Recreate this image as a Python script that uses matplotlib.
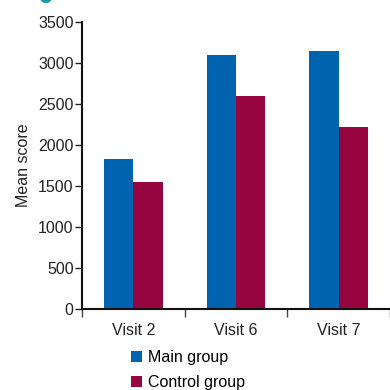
import matplotlib.pyplot as plt
import numpy as np
from matplotlib.patches import Circle

plt.rcParams['font.family'] = ['Liberation Sans', 'DejaVu Sans']

visits = ['Visit 2', 'Visit 6', 'Visit 7']
main_group = [1830, 3100, 3150]
control_group = [1550, 2600, 2220]

blue = '#0063b0'
red = '#970540'
fs = 11.5

fig = plt.figure(figsize=(3.9, 3.9), dpi=100)
ax = fig.add_axes([0.21, 0.208, 0.79, 0.736])

x = np.arange(len(visits))
w = 0.285
ax.bar(x - w / 2, main_group, w, color=blue, label='Main group')
ax.bar(x + w / 2, control_group, w, color=red, label='Control group')

ax.set_xlim(-0.5, len(visits) - 0.5)
ax.set_ylim(0, 3500)
ax.set_yticks(range(0, 3501, 500))
ax.set_xticks(np.arange(-0.5, len(visits), 1.0))
ax.set_xticklabels([])
ax.set_xticks(x, minor=True)
ax.set_xticklabels(visits, minor=True)
ax.tick_params(axis='x', which='minor', length=0, pad=10, labelsize=fs, colors='#222222')
ax.tick_params(axis='x', which='major', length=6, width=1, color='#444444')
ax.tick_params(axis='y', length=5, width=1, labelsize=fs, colors='#222222', pad=1)

for s in ['top', 'right']:
    ax.spines[s].set_visible(False)
for s in ['left', 'bottom']:
    ax.spines[s].set_linewidth(1.5)
    ax.spines[s].set_color('#111111')

ax.set_ylabel('Mean score', fontsize=fs, color='#222222', labelpad=5)

fig.legend(loc='upper left', bbox_to_anchor=(0.335, 0.103), frameon=False,
           fontsize=fs, handlelength=0.7, handleheight=0.7,
           handletextpad=0.4, labelspacing=0.62, borderpad=0, borderaxespad=0)

fig.patches.append(Circle((46 / 390, 1 + 3 / 390), 5.5 / 390, color='#1a9aa8',
                          transform=fig.transFigure, figure=fig))

fig.savefig('out.png', dpi=100)
